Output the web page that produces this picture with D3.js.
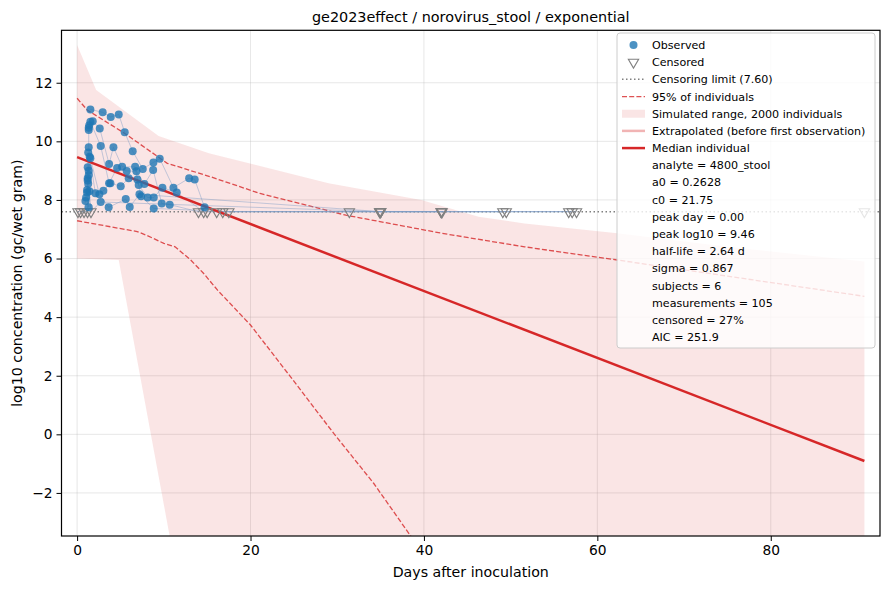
<!DOCTYPE html>
<html>
<head>
<meta charset="utf-8">
<script src="https://cdn.jsdelivr.net/npm/d3@7"></script>
<style>
  body { margin: 0; background: #fff; }
  text { font-family: "DejaVu Sans", sans-serif; fill: #000; }
</style>
</head>
<body>
<svg id="chart" width="890" height="590"></svg>
<script>
// observed measurements (day, log10 gc/wet gram, subject)
const obsSubj = [
  'A', 'A', 'A', 'A', 'A', 'A', 'A', 'A', 'A', 'A', 'A', 'A', 'A',
  'B', 'B', 'B', 'B', 'B', 'B', 'B', 'B', 'B', 'B', 'B', 'B',
  'C', 'C', 'C', 'C', 'C', 'C', 'C', 'C', 'C', 'C', 'C',
  'D', 'D', 'D', 'D', 'D', 'D', 'D', 'D', 'D', 'D', 'D',
  'E', 'E', 'E', 'E', 'E', 'E', 'E', 'E', 'E',
  'F', 'F', 'F', 'F', 'F', 'F', 'F', 'F', 'F', 'F', 'F',
];
const obsDay = [
  1.53, 2.95, 3.88, 4.80, 5.49, 6.41, 7.57, 8.80, 9.53, 11.11, 12.92, 13.56, 14.70,
  1.34, 1.80, 2.61, 3.69, 4.19, 5.19, 6.69, 7.10, 8.14, 8.84, 9.84, 11.49,
  1.40, 1.53, 2.72, 3.69, 4.61, 5.72, 6.84, 7.76, 8.77, 9.76, 10.68,
  1.34, 1.34, 1.45, 2.11, 3.03, 3.84, 5.03, 5.95, 6.95, 7.38, 8.84,
  1.22, 1.28, 1.53, 1.34, 2.57, 3.64, 5.61, 7.19, 6.07,
  0.96, 1.04, 1.15, 1.15, 1.22, 1.22, 1.28, 1.34, 1.34, 1.42, 2.72,
];
const obsLog = [
  11.09, 10.99, 10.83, 10.92, 10.31, 9.66, 9.06, 9.28, 9.41, 8.42, 8.74, 8.70, 7.75,
  10.46, 10.69, 10.44, 9.23, 9.80, 9.13, 9.13, 8.51, 8.08, 8.08, 8.42, 8.25,
  10.55, 10.67, 9.84, 8.57, 9.09, 8.99, 8.98, 8.54, 9.02, 7.88, 7.84,
  10.39, 9.80, 9.47, 8.23, 8.31, 8.57, 8.47, 8.74, 8.70, 8.13, 7.71,
  9.12, 9.62, 9.42, 9.00, 8.19, 7.75, 8.03, 8.19, 7.76,
  7.96, 8.08, 8.34, 8.25, 8.74, 8.66, 8.55, 8.85, 7.75, 8.30, 7.93,
];

// censored measurements (below limit), plotted at the limit
const censLimit = 7.60;
const censSubj = [
  'A', 'A', 'A', 'A',
  'B', 'B', 'B', 'B', 'B',
  'C', 'C', 'C', 'C', 'C',
  'D', 'D', 'D',
  'E', 'E', 'E', 'E',
  'F', 'F', 'F', 'F', 'F',
  null,
];
const censDay = [
  16.1, 31.4, 42.0, 57.1,
  14.6, 15.0, 34.9, 49.1, 56.7,
  14.0, 16.8, 34.9, 42.0, 57.6,
  17.5, 35.0, 49.5,
  0.4, 1.2, 35.0, 42.1,
  0.1, 0.8, 1.6, 35.0, 42.0,
  90.8,
];

// simulated range of 2000 individuals
const bandHiDay = [0, 2.2, 9.4, 15.2, 29, 39.7, 46.3, 51.6, 62.3, 75, 90.8];
const bandHi = [13.29, 11.75, 10.18, 9.59, 8.57, 8.0, 7.43, 7.2, 6.86, 6.4, 5.9];
const bandLoDay = [0, 4.8, 12, 90.8];
const bandLo = [6.0, 5.95, -5.6, -40];

// 95% of individuals
const q95HiDay = [0, 1.16, 5.5, 10.4, 15.4, 21.1, 31.0, 42.1, 51.6, 62.3, 75, 90.8];
const q95Hi = [11.47, 11.07, 10.27, 9.25, 8.79, 8.22, 7.48, 6.86, 6.40, 5.95, 5.4, 4.71];
const q95LoDay = [0, 6.93, 7.96, 10.0, 11.3, 13.1, 14.6, 16.2, 20, 24.6, 29.6, 34.2, 38.4, 42];
const q95Lo = [7.29, 6.92, 6.80, 6.52, 6.40, 5.95, 5.49, 4.92, 3.73, 1.97, 0.03, -1.67, -3.44, -5.0];

// median individual
const medDay = [0, 90.8];
const medLog = [9.46, -0.91];

const xTicks = [0, 20, 40, 60, 80];
const yTicks = [-2, 0, 2, 4, 6, 8, 10, 12];

const legendLabels = [
  'Observed', 'Censored', 'Censoring limit (7.60)', '95% of individuals',
  'Simulated range, 2000 individuals', 'Extrapolated (before first observation)',
  'Median individual',
];
const statLines = [
  'analyte = 4800_stool', 'a0 = 0.2628', 'c0 = 21.75', 'peak day = 0.00',
  'peak log10 = 9.46', 'half-life = 2.64 d', 'sigma = 0.867', 'subjects = 6',
  'measurements = 105', 'censored = 27%', 'AIC = 251.9',
];

const red = '#d62728';
const blue = '#1f77b4';
const dash = '5,2.2';

const plot = { left: 61.5, right: 880, top: 30.3, bottom: 536 };

const svg = d3.select('#chart');

const x = d3.scaleLinear().domain([-1.8, 92.6]).range([plot.left, plot.right]);
const y = d3.scaleLinear().domain([-3.47, 13.79]).range([plot.bottom, plot.top]);

svg.append('defs').append('clipPath').attr('id', 'clip')
  .append('rect')
  .attr('x', plot.left)
  .attr('y', plot.top)
  .attr('width', plot.right - plot.left)
  .attr('height', plot.bottom - plot.top);

// grid
const grid = svg.append('g');
grid.selectAll('line.gx').data(xTicks).enter().append('line')
  .attr('x1', d => x(d)).attr('x2', d => x(d))
  .attr('y1', plot.top).attr('y2', plot.bottom)
  .attr('stroke', '#b0b0b0').attr('stroke-opacity', 0.3).attr('stroke-width', 1);
grid.selectAll('line.gy').data(yTicks).enter().append('line')
  .attr('y1', d => y(d)).attr('y2', d => y(d))
  .attr('x1', plot.left).attr('x2', plot.right)
  .attr('stroke', '#b0b0b0').attr('stroke-opacity', 0.3).attr('stroke-width', 1);

const g = svg.append('g').attr('clip-path', 'url(#clip)');

// simulated band: upper edge forward, lower edge back
const bandPts = bandHiDay.map((d, i) => [d, bandHi[i]])
  .concat(bandLoDay.map((d, i) => [d, bandLo[i]]).reverse());
const line = d3.line().x(d => x(d[0])).y(d => y(d[1]));
g.append('path')
  .attr('d', line(bandPts) + 'Z')
  .attr('fill', red)
  .attr('fill-opacity', 0.12);

// 95% lines
[[q95HiDay, q95Hi], [q95LoDay, q95Lo]].forEach(([days, vals]) => {
  g.append('path')
    .attr('d', line(days.map((d, i) => [d, vals[i]])))
    .attr('fill', 'none')
    .attr('stroke', red)
    .attr('stroke-opacity', 0.8)
    .attr('stroke-width', 1.3)
    .attr('stroke-dasharray', dash);
});

// censoring limit
g.append('line')
  .attr('x1', plot.left).attr('x2', plot.right)
  .attr('y1', y(censLimit)).attr('y2', y(censLimit))
  .attr('stroke', '#808080')
  .attr('stroke-width', 1.5)
  .attr('stroke-dasharray', '1.5,2.5');

// per-subject trajectories
const subjects = Array.from(new Set(obsSubj));
subjects.forEach((s) => {
  const pts = [];
  obsSubj.forEach((ss, i) => { if (ss === s) pts.push([obsDay[i], obsLog[i]]); });
  censSubj.forEach((ss, i) => { if (ss === s) pts.push([censDay[i], censLimit]); });
  pts.sort((a, b) => a[0] - b[0]);
  g.append('path')
    .attr('d', line(pts))
    .attr('fill', 'none')
    .attr('stroke', '#7d9bc6')
    .attr('stroke-opacity', 0.45)
    .attr('stroke-width', 1);
});

// median individual
g.append('path')
  .attr('d', line(medDay.map((d, i) => [d, medLog[i]])))
  .attr('fill', 'none')
  .attr('stroke', red)
  .attr('stroke-width', 2.5);

// censored markers
const tri = d3.symbol().type(d3.symbolTriangle).size(46);
g.selectAll('path.cens').data(censDay).enter().append('path')
  .attr('class', 'cens')
  .attr('d', tri)
  .attr('transform', d => `translate(${x(d)},${y(censLimit)}) rotate(180)`)
  .attr('fill', 'none')
  .attr('stroke', '#808080')
  .attr('stroke-width', 1.1);

// observed markers
g.selectAll('circle.obs').data(obsDay).enter().append('circle')
  .attr('class', 'obs')
  .attr('cx', d => x(d))
  .attr('cy', (d, i) => y(obsLog[i]))
  .attr('r', 4)
  .attr('fill', blue)
  .attr('fill-opacity', 0.8);

// axes
const xAxis = svg.append('g')
  .attr('transform', `translate(0,${plot.bottom})`)
  .call(d3.axisBottom(x).tickValues(xTicks).tickSize(5).tickPadding(4));
const yAxis = svg.append('g')
  .attr('transform', `translate(${plot.left},0)`)
  .call(d3.axisLeft(y).tickValues(yTicks).tickSize(5).tickPadding(4));
[xAxis, yAxis].forEach((a) => {
  a.select('.domain').remove();
  a.selectAll('text').style('font-size', '13.8px').style('font-family', '"DejaVu Sans", sans-serif').attr('fill', '#000');
  a.selectAll('line').attr('stroke', '#000').attr('stroke-width', 1);
});

svg.append('rect')
  .attr('x', plot.left).attr('y', plot.top)
  .attr('width', plot.right - plot.left)
  .attr('height', plot.bottom - plot.top)
  .attr('fill', 'none')
  .attr('stroke', '#000')
  .attr('stroke-width', 1.2);

// titles
svg.append('text')
  .attr('x', (plot.left + plot.right) / 2).attr('y', 22)
  .attr('text-anchor', 'middle')
  .style('font-size', '14.4px')
  .text('ge2023effect / norovirus_stool / exponential');
svg.append('text')
  .attr('x', (plot.left + plot.right) / 2).attr('y', 577)
  .attr('text-anchor', 'middle')
  .style('font-size', '14.2px')
  .text('Days after inoculation');
svg.append('text')
  .attr('transform', `translate(22,${(plot.top + plot.bottom) / 2}) rotate(-90)`)
  .attr('text-anchor', 'middle')
  .style('font-size', '14.2px')
  .text('log10 concentration (gc/wet gram)');

// legend
const lg = svg.append('g').attr('transform', 'translate(617,33)');
lg.append('rect')
  .attr('width', 258).attr('height', 315).attr('rx', 3)
  .attr('fill', '#fff').attr('fill-opacity', 0.8)
  .attr('stroke', '#cccccc').attr('stroke-width', 1);

const rowY = i => 12 + i * 17.18;
const hx0 = 5;
const hx1 = 28;
const hmid = (hx0 + hx1) / 2;

lg.append('circle').attr('cx', hmid).attr('cy', rowY(0)).attr('r', 4)
  .attr('fill', blue).attr('fill-opacity', 0.8);
lg.append('path').attr('d', tri)
  .attr('transform', `translate(${hmid},${rowY(1)}) rotate(180)`)
  .attr('fill', 'none').attr('stroke', '#808080').attr('stroke-width', 1.1);
lg.append('line').attr('x1', hx0).attr('x2', hx1).attr('y1', rowY(2)).attr('y2', rowY(2))
  .attr('stroke', '#808080').attr('stroke-width', 1.5).attr('stroke-dasharray', '1.5,2.5');
lg.append('line').attr('x1', hx0).attr('x2', hx1).attr('y1', rowY(3)).attr('y2', rowY(3))
  .attr('stroke', red).attr('stroke-opacity', 0.8).attr('stroke-width', 1.3)
  .attr('stroke-dasharray', dash);
lg.append('rect').attr('x', hx0).attr('y', rowY(4) - 4).attr('width', hx1 - hx0).attr('height', 8)
  .attr('fill', red).attr('fill-opacity', 0.12);
lg.append('line').attr('x1', hx0).attr('x2', hx1).attr('y1', rowY(5)).attr('y2', rowY(5))
  .attr('stroke', red).attr('stroke-opacity', 0.35).attr('stroke-width', 2.5);
lg.append('line').attr('x1', hx0).attr('x2', hx1).attr('y1', rowY(6)).attr('y2', rowY(6))
  .attr('stroke', red).attr('stroke-width', 2.5);

lg.selectAll('text').data(legendLabels.concat(statLines)).enter().append('text')
  .attr('x', 35)
  .attr('y', (d, i) => rowY(i))
  .attr('dy', '0.36em')
  .style('font-size', '11.1px')
  .text(d => d);
</script>
</body>
</html>
